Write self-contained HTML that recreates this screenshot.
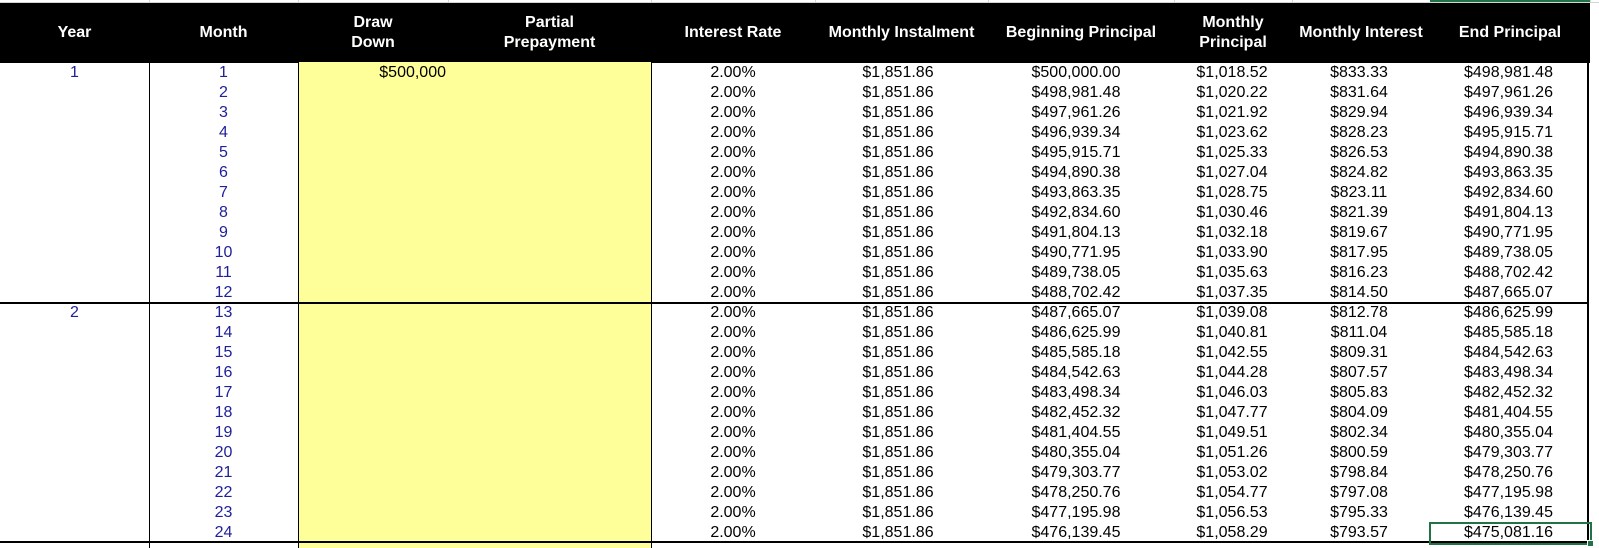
<!DOCTYPE html>
<html><head><meta charset="utf-8"><style>
*{margin:0;padding:0;box-sizing:border-box}
html,body{width:1599px;height:548px;overflow:hidden;background:#fff}
body{position:relative;font-family:"Liberation Sans",Arial,sans-serif;font-size:16px;color:#000}
.a{position:absolute}
.g{position:absolute;background:#d4d4d4}
.hd{position:absolute;left:0;top:3px;width:1590px;height:59.5px;background:#000}
.ht{position:absolute;color:#fff;font-weight:bold;font-size:16px;line-height:20.6px;text-align:center;white-space:nowrap}
.r{position:absolute;left:0;width:1590px;height:20px;line-height:20px;white-space:nowrap}
.r span{position:absolute;top:0;text-align:center}
.yr{left:0;width:149px;color:#20209a}
.mo{left:149px;width:149px;color:#20209a}
.dd{left:298px;width:148px;text-align:right!important}
.iv{left:651px;width:164px}
.mi{left:815px;width:166px}
.bp{left:988px;width:176px}
.mp{left:1174px;width:116px}
.mt{left:1292px;width:134px}
.ep{left:1430px;width:157px}
</style></head><body>
<!-- top gridline strip -->
<div class="g" style="left:0;top:2px;width:1599px;height:1px"></div>
<div class="g" style="left:149px;top:0;width:1px;height:3px"></div>
<div class="g" style="left:298px;top:0;width:1px;height:3px"></div>
<div class="g" style="left:448px;top:0;width:1px;height:3px"></div>
<div class="g" style="left:651px;top:0;width:1px;height:3px"></div>
<div class="g" style="left:815px;top:0;width:1px;height:3px"></div>
<div class="g" style="left:988px;top:0;width:1px;height:3px"></div>
<div class="g" style="left:1174px;top:0;width:1px;height:3px"></div>
<div class="g" style="left:1292px;top:0;width:1px;height:3px"></div>
<div class="g" style="left:1590px;top:0;width:1px;height:3px"></div>
<div class="a" style="left:1430px;top:0;width:160px;height:2px;background:#217346"></div>

<!-- header -->
<div class="hd"></div>
<div class="ht" style="left:0;width:149px;top:22.5px">Year</div>
<div class="ht" style="left:149px;width:149px;top:22.5px">Month</div>
<div class="ht" style="left:298px;width:150px;top:12.5px">Draw<br>Down</div>
<div class="ht" style="left:448px;width:203px;top:12.5px">Partial<br>Prepayment</div>
<div class="ht" style="left:651px;width:164px;top:22.5px">Interest Rate</div>
<div class="ht" style="left:815px;width:173px;top:22.5px">Monthly Instalment</div>
<div class="ht" style="left:988px;width:186px;top:22.5px">Beginning Principal</div>
<div class="ht" style="left:1174px;width:118px;top:12.5px">Monthly<br>Principal</div>
<div class="ht" style="left:1292px;width:138px;top:22.5px">Monthly Interest</div>
<div class="ht" style="left:1430px;width:160px;top:22.5px">End Principal</div>

<!-- body background & lines -->
<div class="a" style="left:299px;top:62px;width:352px;height:486px;background:#ffff99"></div>
<div class="a" style="left:149px;top:62px;width:1px;height:486px;background:#000"></div>
<div class="a" style="left:298px;top:62px;width:1px;height:486px;background:#000"></div>
<div class="a" style="left:651px;top:62px;width:1px;height:486px;background:#000"></div>
<div class="a" style="left:1587px;top:62px;width:2px;height:481px;background:#000"></div>
<div class="a" style="left:0;top:302px;width:1589px;height:2px;background:#000"></div>
<div class="a" style="left:0;top:541px;width:1589px;height:2px;background:#000"></div>

<!-- rows -->
<div class="r" style="top:63px"><span class="yr">1</span><span class="mo">1</span><span class="dd">$500,000</span><span class="iv">2.00%</span><span class="mi">$1,851.86</span><span class="bp">$500,000.00</span><span class="mp">$1,018.52</span><span class="mt">$833.33</span><span class="ep">$498,981.48</span></div>
<div class="r" style="top:83px"><span class="mo">2</span><span class="iv">2.00%</span><span class="mi">$1,851.86</span><span class="bp">$498,981.48</span><span class="mp">$1,020.22</span><span class="mt">$831.64</span><span class="ep">$497,961.26</span></div>
<div class="r" style="top:103px"><span class="mo">3</span><span class="iv">2.00%</span><span class="mi">$1,851.86</span><span class="bp">$497,961.26</span><span class="mp">$1,021.92</span><span class="mt">$829.94</span><span class="ep">$496,939.34</span></div>
<div class="r" style="top:123px"><span class="mo">4</span><span class="iv">2.00%</span><span class="mi">$1,851.86</span><span class="bp">$496,939.34</span><span class="mp">$1,023.62</span><span class="mt">$828.23</span><span class="ep">$495,915.71</span></div>
<div class="r" style="top:143px"><span class="mo">5</span><span class="iv">2.00%</span><span class="mi">$1,851.86</span><span class="bp">$495,915.71</span><span class="mp">$1,025.33</span><span class="mt">$826.53</span><span class="ep">$494,890.38</span></div>
<div class="r" style="top:163px"><span class="mo">6</span><span class="iv">2.00%</span><span class="mi">$1,851.86</span><span class="bp">$494,890.38</span><span class="mp">$1,027.04</span><span class="mt">$824.82</span><span class="ep">$493,863.35</span></div>
<div class="r" style="top:183px"><span class="mo">7</span><span class="iv">2.00%</span><span class="mi">$1,851.86</span><span class="bp">$493,863.35</span><span class="mp">$1,028.75</span><span class="mt">$823.11</span><span class="ep">$492,834.60</span></div>
<div class="r" style="top:203px"><span class="mo">8</span><span class="iv">2.00%</span><span class="mi">$1,851.86</span><span class="bp">$492,834.60</span><span class="mp">$1,030.46</span><span class="mt">$821.39</span><span class="ep">$491,804.13</span></div>
<div class="r" style="top:223px"><span class="mo">9</span><span class="iv">2.00%</span><span class="mi">$1,851.86</span><span class="bp">$491,804.13</span><span class="mp">$1,032.18</span><span class="mt">$819.67</span><span class="ep">$490,771.95</span></div>
<div class="r" style="top:243px"><span class="mo">10</span><span class="iv">2.00%</span><span class="mi">$1,851.86</span><span class="bp">$490,771.95</span><span class="mp">$1,033.90</span><span class="mt">$817.95</span><span class="ep">$489,738.05</span></div>
<div class="r" style="top:263px"><span class="mo">11</span><span class="iv">2.00%</span><span class="mi">$1,851.86</span><span class="bp">$489,738.05</span><span class="mp">$1,035.63</span><span class="mt">$816.23</span><span class="ep">$488,702.42</span></div>
<div class="r" style="top:283px"><span class="mo">12</span><span class="iv">2.00%</span><span class="mi">$1,851.86</span><span class="bp">$488,702.42</span><span class="mp">$1,037.35</span><span class="mt">$814.50</span><span class="ep">$487,665.07</span></div>
<div class="r" style="top:303px"><span class="yr">2</span><span class="mo">13</span><span class="iv">2.00%</span><span class="mi">$1,851.86</span><span class="bp">$487,665.07</span><span class="mp">$1,039.08</span><span class="mt">$812.78</span><span class="ep">$486,625.99</span></div>
<div class="r" style="top:323px"><span class="mo">14</span><span class="iv">2.00%</span><span class="mi">$1,851.86</span><span class="bp">$486,625.99</span><span class="mp">$1,040.81</span><span class="mt">$811.04</span><span class="ep">$485,585.18</span></div>
<div class="r" style="top:343px"><span class="mo">15</span><span class="iv">2.00%</span><span class="mi">$1,851.86</span><span class="bp">$485,585.18</span><span class="mp">$1,042.55</span><span class="mt">$809.31</span><span class="ep">$484,542.63</span></div>
<div class="r" style="top:363px"><span class="mo">16</span><span class="iv">2.00%</span><span class="mi">$1,851.86</span><span class="bp">$484,542.63</span><span class="mp">$1,044.28</span><span class="mt">$807.57</span><span class="ep">$483,498.34</span></div>
<div class="r" style="top:383px"><span class="mo">17</span><span class="iv">2.00%</span><span class="mi">$1,851.86</span><span class="bp">$483,498.34</span><span class="mp">$1,046.03</span><span class="mt">$805.83</span><span class="ep">$482,452.32</span></div>
<div class="r" style="top:403px"><span class="mo">18</span><span class="iv">2.00%</span><span class="mi">$1,851.86</span><span class="bp">$482,452.32</span><span class="mp">$1,047.77</span><span class="mt">$804.09</span><span class="ep">$481,404.55</span></div>
<div class="r" style="top:423px"><span class="mo">19</span><span class="iv">2.00%</span><span class="mi">$1,851.86</span><span class="bp">$481,404.55</span><span class="mp">$1,049.51</span><span class="mt">$802.34</span><span class="ep">$480,355.04</span></div>
<div class="r" style="top:443px"><span class="mo">20</span><span class="iv">2.00%</span><span class="mi">$1,851.86</span><span class="bp">$480,355.04</span><span class="mp">$1,051.26</span><span class="mt">$800.59</span><span class="ep">$479,303.77</span></div>
<div class="r" style="top:463px"><span class="mo">21</span><span class="iv">2.00%</span><span class="mi">$1,851.86</span><span class="bp">$479,303.77</span><span class="mp">$1,053.02</span><span class="mt">$798.84</span><span class="ep">$478,250.76</span></div>
<div class="r" style="top:483px"><span class="mo">22</span><span class="iv">2.00%</span><span class="mi">$1,851.86</span><span class="bp">$478,250.76</span><span class="mp">$1,054.77</span><span class="mt">$797.08</span><span class="ep">$477,195.98</span></div>
<div class="r" style="top:503px"><span class="mo">23</span><span class="iv">2.00%</span><span class="mi">$1,851.86</span><span class="bp">$477,195.98</span><span class="mp">$1,056.53</span><span class="mt">$795.33</span><span class="ep">$476,139.45</span></div>
<div class="r" style="top:523px"><span class="mo">24</span><span class="iv">2.00%</span><span class="mi">$1,851.86</span><span class="bp">$476,139.45</span><span class="mp">$1,058.29</span><span class="mt">$793.57</span><span class="ep">$475,081.16</span></div>

<!-- selection box -->
<div class="a" style="left:1429px;top:522px;width:163px;height:23px;border:2px solid #217346"></div>
<div class="a" style="left:1587px;top:540px;width:7px;height:7px;background:#217346;border:1px solid #fff"></div>
</body></html>
